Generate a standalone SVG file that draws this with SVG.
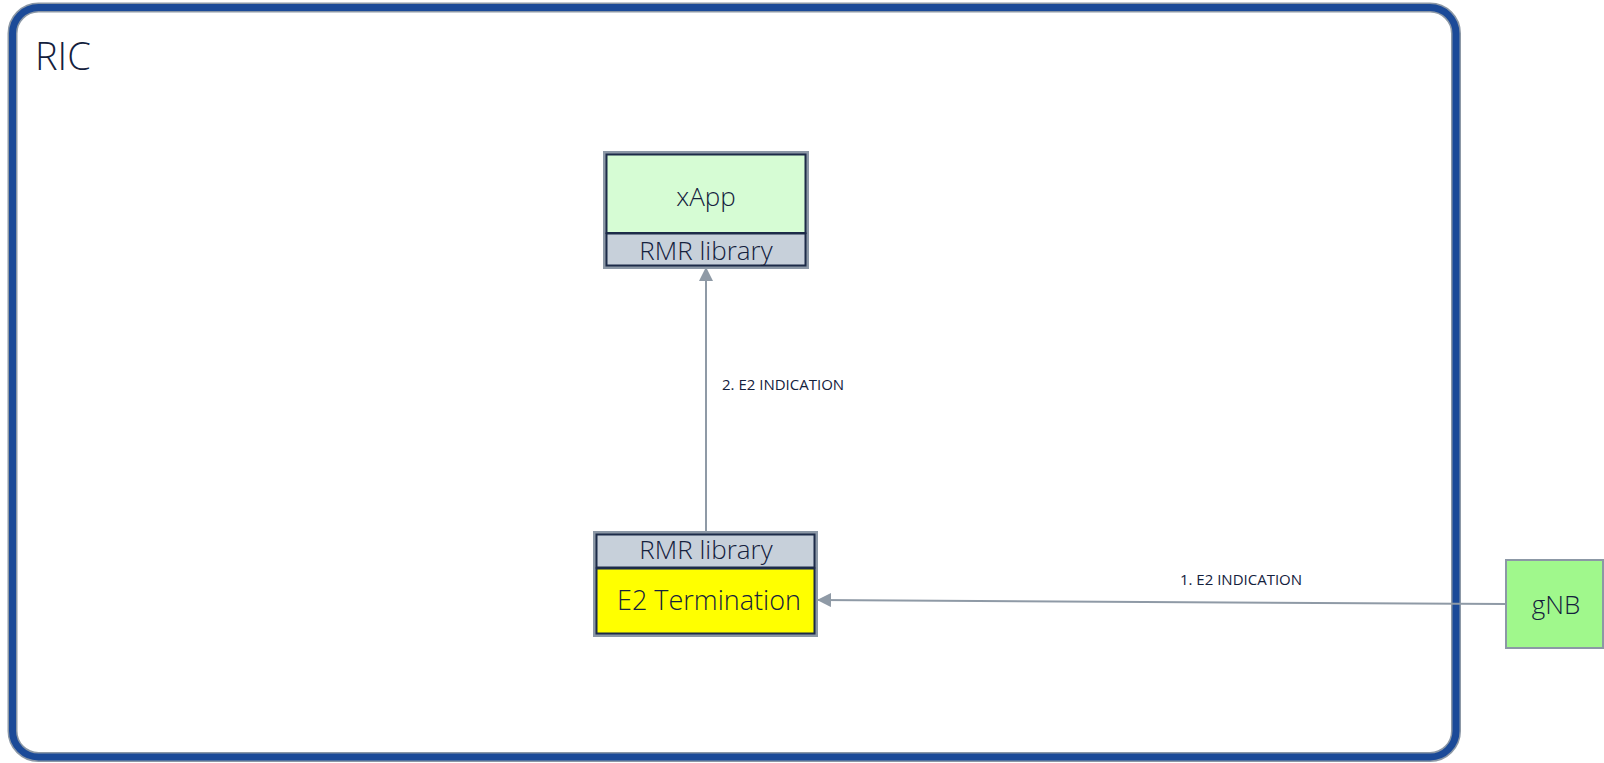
<svg xmlns="http://www.w3.org/2000/svg" width="1604" height="763" viewBox="0 0 1604 763">
  <style>
    .txt { font-family: "Open Sans", "Noto Sans", "Liberation Sans", sans-serif; fill: #14213d; font-weight: 300; }
    .halo { fill: none; stroke: #8c98a6; stroke-width: 4; }
    .edge { stroke: #1c2b48; stroke-width: 2; }
    .lib { fill: #c7d0da; }
    .conn { stroke: #8f9aa6; stroke-width: 2; fill: none; }
    .lbl { font-size: 15px; font-weight: 400; }
  </style>
  <defs>
    <marker id="arrow" viewBox="0 0 14 14" refX="13" refY="7" markerWidth="14" markerHeight="14" markerUnits="userSpaceOnUse" orient="auto">
      <path d="M0,0 L14,7 L0,14 Z" fill="#8f9aa6"/>
    </marker>
  </defs>

  <rect width="1604" height="763" fill="#ffffff"/>

  <!-- RIC container -->
  <g id="ric">
    <rect x="12.5" y="7.5" width="1443.5" height="749.5" rx="26" ry="26" fill="#ffffff" stroke="#8c98a6" stroke-width="10"/>
    <rect x="12.5" y="7.5" width="1443.5" height="749.5" rx="26" ry="26" fill="none" stroke="#1b4a98" stroke-width="7"/>
    <text class="txt" x="35" y="70" font-size="38">RIC</text>
  </g>

  <!-- xApp with its RMR library -->
  <g id="xapp">
    <rect x="605" y="153" width="202" height="80" fill="#d6fcd4"/>
    <rect class="halo" x="605" y="153" width="202" height="114"/>
    <rect x="606.5" y="154.5" width="199" height="78.5" fill="none" class="edge"/>
    <text class="txt" x="706" y="206" font-size="26" text-anchor="middle">xApp</text>
  </g>
  <g id="xapp-rmr">
    <rect class="lib edge" x="606.5" y="233.5" width="199" height="32"/>
    <text class="txt" x="706" y="260" font-size="26" text-anchor="middle">RMR library</text>
  </g>

  <!-- E2 Termination with its RMR library -->
  <g id="e2t-rmr">
    <rect class="halo" x="595" y="533" width="221" height="102"/>
    <rect class="lib edge" x="596.5" y="534.5" width="218" height="33"/>
    <text class="txt" x="706" y="559" font-size="26" text-anchor="middle">RMR library</text>
  </g>
  <g id="e2t">
    <rect x="596.5" y="568.5" width="218" height="65" fill="#ffff00" class="edge"/>
    <text class="txt" x="709" y="610" font-size="27" text-anchor="middle">E2 Termination</text>
  </g>

  <!-- gNB -->
  <g id="gnb">
    <rect x="1506" y="560" width="97" height="88" fill="#a0f88c" stroke="#8c98a6" stroke-width="2"/>
    <text class="txt" x="1556" y="614" font-size="26" text-anchor="middle">gNB</text>
  </g>

  <!-- connectors -->
  <g id="connectors">
    <line class="conn" x1="1505" y1="604" x2="818" y2="600" marker-end="url(#arrow)"/>
    <text class="txt lbl" x="1241" y="585" text-anchor="middle">1. E2 INDICATION</text>
    <line class="conn" x1="706" y1="532" x2="706" y2="268" marker-end="url(#arrow)"/>
    <text class="txt lbl" x="722" y="390">2. E2 INDICATION</text>
  </g>
</svg>
